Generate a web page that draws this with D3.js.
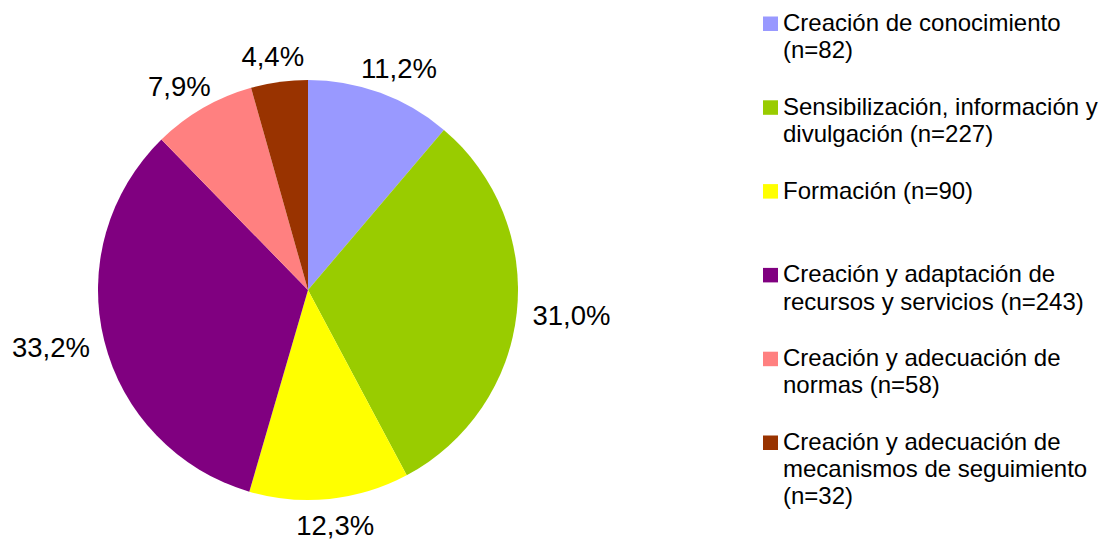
<!DOCTYPE html>
<html>
<head>
<meta charset="utf-8">
<script src="https://cdn.jsdelivr.net/npm/d3@7"></script>
<style>
  html, body { margin: 0; padding: 0; background: #fff; }
  svg { display: block; }
</style>
</head>
<body>
<svg id="chart" width="1104" height="545"></svg>
<script>
const categories = [
  "Creación de conocimiento",
  "Sensibilización, información y divulgación",
  "Formación",
  "Creación y adaptación de recursos y servicios",
  "Creación y adecuación de normas",
  "Creación y adecuación de mecanismos de seguimiento"
];
const counts = [82, 227, 90, 243, 58, 32];
const colors = ["#9999FF", "#99CC00", "#FFFF00", "#800080", "#FF8080", "#993300"];
const legendLines = [
  ["Creación de conocimiento", "(n=82)"],
  ["Sensibilización, información y", "divulgación (n=227)"],
  ["Formación (n=90)"],
  ["Creación y adaptación de", "recursos y servicios (n=243)"],
  ["Creación y adecuación de", "normas (n=58)"],
  ["Creación y adecuación de", "mecanismos de seguimiento", "(n=32)"]
];

const svg = d3.select("#chart");
const cx = 308, cy = 290, r = 210;
const total = d3.sum(counts);
const fmt = v => d3.format(".1f")(v * 100).replace(".", ",") + "%";

const pie = d3.pie().sort(null).value(d => d)(counts);
const arc = d3.arc().innerRadius(0).outerRadius(r);

const g = svg.append("g").attr("transform", `translate(${cx},${cy})`);
g.selectAll("path").data(pie).join("path")
  .attr("d", arc)
  .attr("fill", (d, i) => colors[i]);

// labels outside end
const labelFont = 27.5;
const R0 = 226;
g.selectAll("text.lbl").data(pie).join("text")
  .attr("class", "lbl")
  .attr("font-family", "'Liberation Sans', Arial, sans-serif")
  .attr("font-size", labelFont)
  .attr("fill", "#000")
  .attr("text-anchor", "middle")
  .each(function(d) {
    const t = d3.select(this).text(fmt(d.value / total));
    const w = this.getComputedTextLength();
    const a = (d.startAngle + d.endAngle) / 2;
    const ux = Math.sin(a), uy = -Math.cos(a);
    const hw = w / 2, hh = labelFont * 0.36;
    const x = ux * (R0 + hw);
    const y = uy * (R0 + hh);
    t.attr("x", x).attr("y", y + labelFont * 0.36);
  });

// legend
const lx = 763, ly0 = 31, step = 83.8, lineH = 27.2;
const leg = svg.append("g");
legendLines.forEach((lines, i) => {
  const by = ly0 + i * step;
  leg.append("rect")
    .attr("x", lx).attr("y", by - 14.5)
    .attr("width", 15).attr("height", 14.5)
    .attr("fill", colors[i]);
  const t = leg.append("text")
    .attr("font-family", "'Liberation Sans', Arial, sans-serif")
    .attr("font-size", 24)
    .attr("fill", "#000");
  lines.forEach((s, j) => {
    t.append("tspan").attr("x", lx + 20).attr("y", by + j * lineH).text(s);
  });
});
</script>
</body>
</html>
